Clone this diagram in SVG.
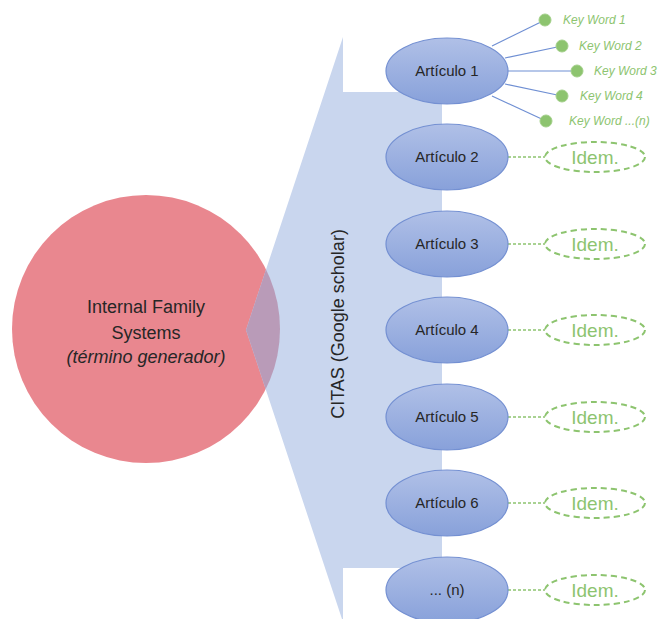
<svg xmlns="http://www.w3.org/2000/svg" width="660" height="619" viewBox="0 0 660 619">
<style>
.art{fill:url(#ag);stroke:#7490d2;stroke-width:1.2}
.at{font-family:"Liberation Sans",Arial,sans-serif;font-size:15px;fill:#262626;text-anchor:middle}
.idem{fill:#fff;stroke:#8dc46f;stroke-width:2;stroke-dasharray:6,4}
.it{font-family:"Liberation Sans",Arial,sans-serif;font-size:19px;fill:#8dc46f;text-anchor:middle}
.dl{stroke:#8dc46f;stroke-width:1.5;stroke-dasharray:3,2;fill:none}
.kl{stroke:#6f8fd3;stroke-width:1.2;fill:none}
.kd{fill:#8dc46f;stroke:#a3d08a;stroke-width:1}
.kt{font-family:"Liberation Sans",Arial,sans-serif;font-size:12px;font-style:italic;fill:#8dc46f}
.ct{font-family:"Liberation Sans",Arial,sans-serif;font-size:18px;fill:#262626;text-anchor:middle}
</style>
<defs>
<linearGradient id="ag" x1="0" y1="0" x2="0" y2="1">
<stop offset="0" stop-color="#b0c0e7"/>
<stop offset="1" stop-color="#88a1da"/>
</linearGradient>
<clipPath id="cc"><polygon points="343,37 343,92 442,92 442,568 343,568 343,622 246,330"/></clipPath>
</defs>
<g id="generador">
<circle cx="146" cy="329" r="134" fill="#e9878f"/>
</g>
<g id="citas">
<polygon points="343,37 343,92 442,92 442,568 343,568 343,622 246,330" fill="#c9d6ee"/>
<circle cx="146" cy="329" r="134" fill="#b99bb8" clip-path="url(#cc)"/>
<text class="ct" transform="translate(344,324) rotate(-90)">CITAS (Google scholar)</text>
</g>
<g id="generador-label">
<text class="ct" x="146" y="313">Internal Family</text>
<text class="ct" x="146" y="339">Systems</text>
<text class="ct" x="146" y="363" font-style="italic">(término generador)</text>
</g>
<g id="connectors">
<line class="kl" x1="492" y1="46" x2="545" y2="20"/>
<line class="kl" x1="505" y1="58" x2="562" y2="46"/>
<line class="kl" x1="508" y1="71" x2="577" y2="71"/>
<line class="kl" x1="505" y1="84" x2="562" y2="96"/>
<line class="kl" x1="492" y1="96" x2="546" y2="121"/>
<line class="dl" x1="508" y1="157" x2="545" y2="157"/>
<line class="dl" x1="508" y1="244" x2="545" y2="244"/>
<line class="dl" x1="508" y1="330" x2="545" y2="330"/>
<line class="dl" x1="508" y1="417" x2="545" y2="417"/>
<line class="dl" x1="508" y1="503" x2="545" y2="503"/>
<line class="dl" x1="508" y1="590" x2="545" y2="590"/>
</g>
<g id="art1"><ellipse class="art" cx="447" cy="71" rx="61" ry="33"/><text class="at" x="447" y="76">Artículo 1</text></g>
<g id="art2"><ellipse class="art" cx="447" cy="157" rx="61" ry="33"/><text class="at" x="447" y="162">Artículo 2</text></g>
<g id="art3"><ellipse class="art" cx="447" cy="244" rx="61" ry="33"/><text class="at" x="447" y="249">Artículo 3</text></g>
<g id="art4"><ellipse class="art" cx="447" cy="330" rx="61" ry="33"/><text class="at" x="447" y="335">Artículo 4</text></g>
<g id="art5"><ellipse class="art" cx="447" cy="417" rx="61" ry="33"/><text class="at" x="447" y="422">Artículo 5</text></g>
<g id="art6"><ellipse class="art" cx="447" cy="503" rx="61" ry="33"/><text class="at" x="447" y="508">Artículo 6</text></g>
<g id="artn"><ellipse class="art" cx="447" cy="590" rx="61" ry="33"/><text class="at" x="447" y="595">... (n)</text></g>
<g id="kw1"><circle class="kd" cx="545" cy="20" r="6"/><text class="kt" x="563" y="24">Key Word 1</text></g>
<g id="kw2"><circle class="kd" cx="562" cy="46" r="6"/><text class="kt" x="579" y="50">Key Word 2</text></g>
<g id="kw3"><circle class="kd" cx="577" cy="71" r="6"/><text class="kt" x="594" y="75">Key Word 3</text></g>
<g id="kw4"><circle class="kd" cx="562" cy="96" r="6"/><text class="kt" x="580" y="100">Key Word 4</text></g>
<g id="kwn"><circle class="kd" cx="546" cy="121" r="6"/><text class="kt" x="569" y="125">Key Word ...(n)</text></g>
<g id="idem2"><ellipse class="idem" cx="595" cy="157" rx="50" ry="15"/><text class="it" x="595" y="164">Idem.</text></g>
<g id="idem3"><ellipse class="idem" cx="595" cy="244" rx="50" ry="15"/><text class="it" x="595" y="251">Idem.</text></g>
<g id="idem4"><ellipse class="idem" cx="595" cy="330" rx="50" ry="15"/><text class="it" x="595" y="337">Idem.</text></g>
<g id="idem5"><ellipse class="idem" cx="595" cy="417" rx="50" ry="15"/><text class="it" x="595" y="424">Idem.</text></g>
<g id="idem6"><ellipse class="idem" cx="595" cy="503" rx="50" ry="15"/><text class="it" x="595" y="510">Idem.</text></g>
<g id="idemn"><ellipse class="idem" cx="595" cy="590" rx="50" ry="15"/><text class="it" x="595" y="597">Idem.</text></g>
</svg>
